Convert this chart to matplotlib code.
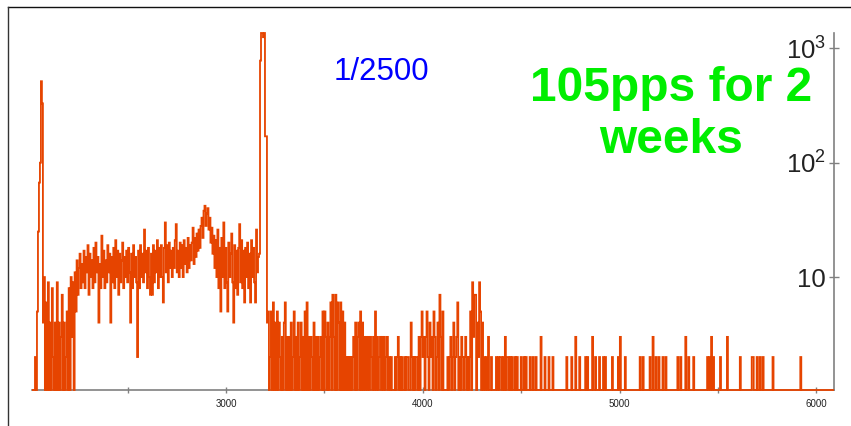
from __future__ import annotations

import matplotlib

matplotlib.use("Agg")

import matplotlib.pyplot as plt
import numpy as np
from matplotlib.lines import Line2D
from matplotlib.ticker import FixedLocator, MultipleLocator, NullLocator

plt.rcParams["font.family"] = ["Liberation Sans", "DejaVu Sans"]

# channel axis and binning
X_MIN, X_MAX = 2014, 6090
N_BINS = 809
Y_MIN, Y_MAX = 1.03, 1360

# counts per bin, contiguous from X_MIN
low_edge_counts = [
    0, 0, 0, 2, 0, 5, 25, 67, 100, 515, 330, 4,
    10, 0, 6, 0, 9, 0, 4, 0, 8, 2, 0, 4, 0, 9, 0, 4, 0, 3, 7, 0,
    4, 0, 2, 5, 0, 8, 0, 10, 3, 9,
    0, 11, 5, 14, 7, 12, 16, 8, 13,
]
continuum_counts = [
    9, 17, 8, 15, 11, 19, 7, 16, 10, 14, 8, 18, 9, 20, 11, 15, 4, 13, 8, 23,
    10, 17, 8, 14, 9, 19, 11, 16, 4, 15, 9, 18, 8, 21, 10, 17, 7, 16, 9, 14,
    20, 8, 15, 10, 17, 9, 18, 11, 4, 16, 8, 19, 10, 15, 9, 2, 17, 8, 19, 10,
    16, 9, 26, 11, 17, 8, 18, 10, 7, 16, 7, 19, 9, 17, 11, 21, 8, 18, 10, 19,
    10, 6, 18, 30, 11, 19, 9, 20, 12, 17, 10, 18, 12, 21, 29, 11, 17, 10, 20, 12,
    19, 10, 21, 13, 18, 11, 22, 12, 19, 14, 20, 27, 13, 22, 15, 24, 17, 26, 18, 28,
    33, 22, 38, 42, 28, 36, 40, 26, 33, 20, 27, 16, 23, 12, 21,
    10, 26, 8, 18, 5, 22, 10, 30, 8, 18, 9, 5, 20, 10, 16, 24, 9, 4, 19, 8,
    17, 7, 18, 29, 9, 21, 8, 17, 6, 18, 10, 20, 8, 16, 6, 21, 10, 18, 9, 6, 26, 11, 15, 16,
]
peak_counts = [780, 1600, 1450, 1250, 1550, 170, 170]
plateau_counts = [
    4, 5, 0, 2, 5, 0, 6, 0, 4, 0, 5, 0, 4, 2, 0, 3, 0, 4, 6, 0,
    3, 0, 3, 0, 4, 0, 2, 5, 0, 3, 0, 4, 0, 2, 4, 0, 3, 0, 5, 0,
    6, 0, 3, 0, 3, 2, 0, 4, 0, 3, 0, 3, 0, 2, 3, 0, 5, 0, 5, 3,
    0, 4, 0, 3, 6, 0, 7, 3, 0, 7, 0, 6, 4, 0, 6, 0, 5, 0, 4, 0,
    2, 0, 2, 0, 2, 0, 2, 3, 0, 4, 0, 3, 4, 0, 5, 0, 4, 0, 3, 0,
    3, 0, 3, 0, 3, 2, 0, 3, 0, 5, 0, 3, 0, 2, 3, 0, 3, 0, 3, 0,
    2, 3, 0, 2, 0, 2, 0, 1, 0, 2, 0, 2, 3, 0, 2, 0, 2, 0, 0, 2,
    0, 2, 2, 0, 0, 4, 2, 0, 2, 0, 2, 2, 0, 3, 0, 3, 5, 2, 3, 0,
    3, 5, 2, 0, 4, 2, 3, 0, 5, 3, 0, 2, 4, 0, 7, 3, 0, 5, 0, 0,
    0, 0, 2, 0, 2, 3, 0, 2, 4, 0, 2, 3, 6, 0, 2, 0, 3, 2, 0, 2,
    3, 0, 2, 0, 2, 5, 0, 9, 3, 7, 7, 0, 4, 2, 9, 5, 0, 4, 0, 2,
    0, 2, 0, 3, 0, 0, 2, 0, 0, 0, 0, 2, 0, 2, 0, 2, 2, 0, 2, 0,
    3, 0, 2, 2, 0, 2, 0, 2, 0, 0, 2, 0, 2, 0, 0, 0, 2, 0, 0, 2, 0, 2, 0, 0, 0, 2, 0,
]

# sparse high-energy tail: channel -> counts
tail_channels = [
    4560, 4575, 4600, 4620, 4640, 4660, 4730, 4755, 4775, 4800,
    4830, 4840, 4865, 4880, 4900, 4920, 4930, 4965, 4995, 5005,
    5030, 5105, 5120, 5155, 5170, 5185, 5200, 5220, 5235, 5295,
    5310, 5335, 5350, 5375, 5450, 5460, 5470, 5480, 5515, 5550,
    5615, 5675, 5680, 5700, 5715, 5730, 5780, 5920,
]
tail_counts = [
    2, 2, 3, 2, 2, 2, 2, 2, 3, 2,
    2, 2, 3, 2, 2, 2, 2, 2, 2, 3,
    2, 2, 2, 2, 3, 2, 2, 2, 2, 2,
    2, 3, 2, 2, 2, 2, 3, 2, 2, 3,
    2, 2, 2, 2, 2, 2, 2, 2,
]

x_ticks = [3000, 4000, 5000, 6000]
y_ticks = [10, 100, 1000]
y_tick_labels = ["10", r"$\mathregular{10^{2}}$", r"$\mathregular{10^{3}}$"]

scale_label = "1/2500"
rate_label = "105pps for 2\nweeks"

HIST_COLOR = "#e64400"
AXIS_COLOR = "#808080"
TEXT_COLOR = "#222222"


def build_counts() -> tuple[np.ndarray, np.ndarray]:
    edges = np.linspace(X_MIN, X_MAX, N_BINS + 1)
    width = edges[1] - edges[0]
    counts = np.zeros(N_BINS)
    dense = np.concatenate([low_edge_counts, continuum_counts, peak_counts, plateau_counts])
    counts[: len(dense)] = dense
    for channel, value in zip(tail_channels, tail_counts):
        counts[int((channel - X_MIN) // width)] = value
    return edges, counts


def main() -> None:
    edges, counts = build_counts()

    fig = plt.figure(figsize=(8.51, 4.26), dpi=100)
    ax = fig.add_axes([32 / 851, 36 / 426, 802 / 851, 357 / 426])
    ax.set_yscale("log")

    # empty and overflowing bins are pinned to the frame, like a ROOT logy pad
    ax.stairs(
        np.clip(counts, Y_MIN, Y_MAX),
        edges,
        baseline=None,
        color=HIST_COLOR,
        lw=1.3,
        zorder=3,
        clip_on=False,
    )
    ax.set_xlim(X_MIN, X_MAX)
    ax.set_ylim(Y_MIN, Y_MAX)

    for side in ("left", "top"):
        ax.spines[side].set_visible(False)
    for side in ("right", "bottom"):
        ax.spines[side].set_color(AXIS_COLOR)
        ax.spines[side].set_linewidth(1.2)

    ax.xaxis.set_major_locator(FixedLocator(x_ticks))
    ax.xaxis.set_minor_locator(MultipleLocator(500))
    ax.tick_params(
        axis="x", which="both", direction="inout", length=5, width=1,
        colors=AXIS_COLOR, labelcolor=TEXT_COLOR, labelsize=7, pad=4,
    )

    ax.yaxis.tick_right()
    ax.set_yticks(y_ticks, labels=y_tick_labels)
    ax.yaxis.set_minor_locator(NullLocator())
    ax.tick_params(
        axis="y", which="major", direction="inout", length=7, width=1,
        colors=AXIS_COLOR, labelcolor=TEXT_COLOR, labelsize=18.5, pad=-9.5,
        left=False, right=True, labelleft=False, labelright=True,
    )
    for label in ax.get_yticklabels():
        label.set_horizontalalignment("right")

    fig.text(381 / 851, 346 / 426, scale_label, color="#0000ff", fontsize=22.5,
             ha="center", va="baseline")
    # baseline of the last line sits at the anchor
    fig.text(671 / 851, 273 / 426, rate_label, color="#00ee00", fontsize=34.5,
             fontweight="bold", ha="center", va="baseline", linespacing=1.2,
             multialignment="center")

    # pad frame
    fig.add_artist(Line2D([7.5 / 851, 1], [1 - 6.5 / 426] * 2, color="#111111", lw=1.0))
    fig.add_artist(Line2D([7.5 / 851] * 2, [0, 1 - 6.5 / 426], color="#333333", lw=1.0))

    fig.savefig("out.png", dpi=100)
    plt.close(fig)


if __name__ == "__main__":
    main()
